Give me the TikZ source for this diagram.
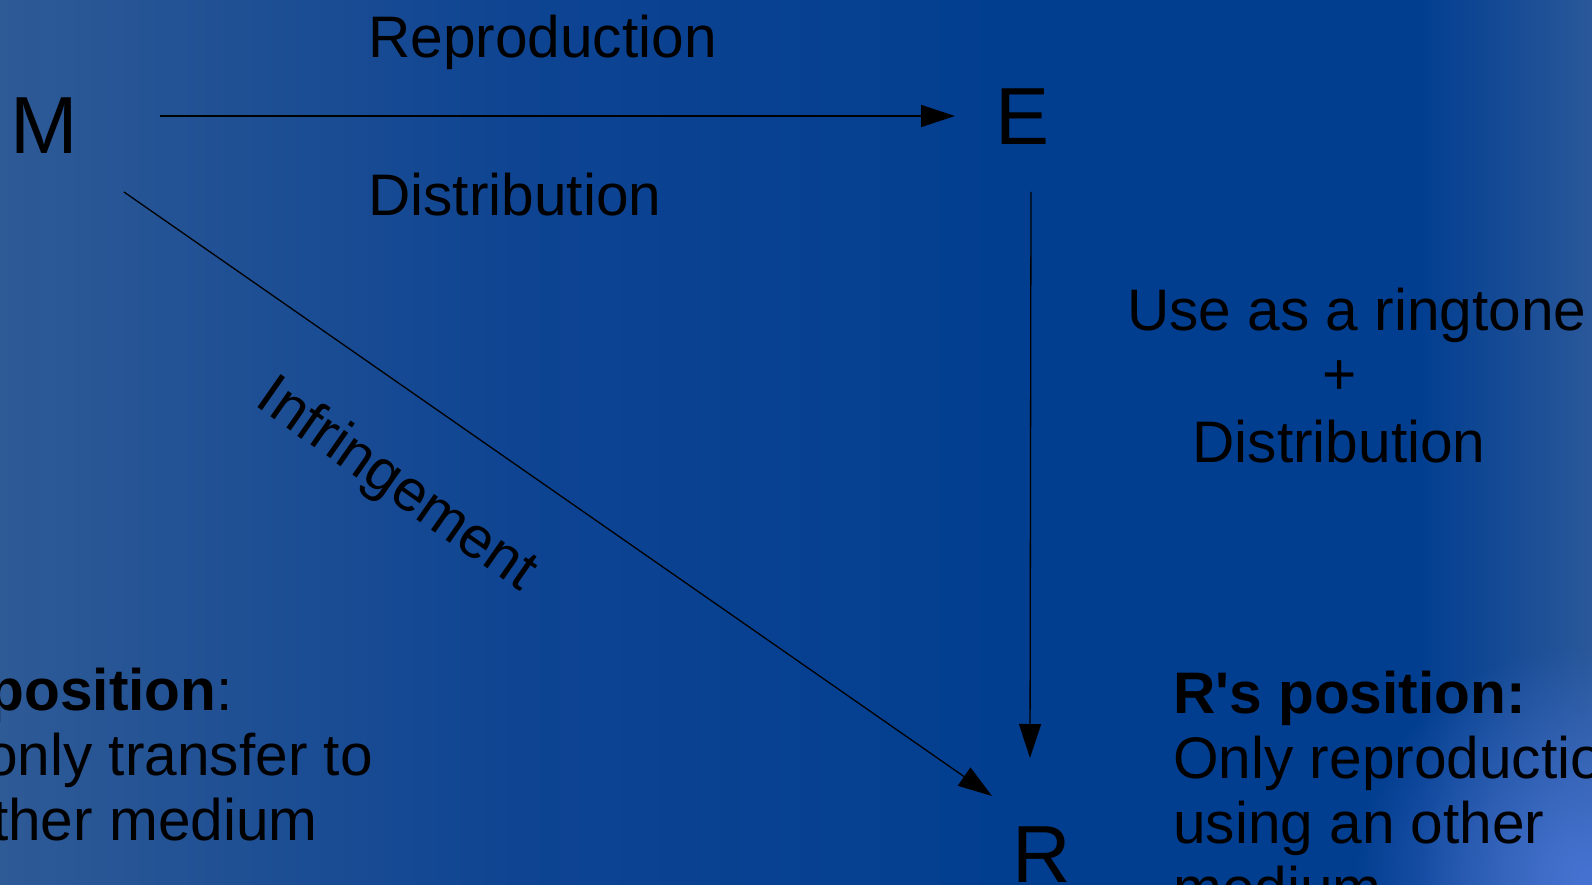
\documentclass[tikz,border=0pt]{standalone}
\usepackage{fontspec}
\setmainfont{Liberation Sans}
\usetikzlibrary{arrows.meta,calc,fadings}
\definecolor{bgmid}{RGB}{2,62,144}
\definecolor{bgleft}{RGB}{46,90,150}
\definecolor{bgleft2}{RGB}{14,68,146}
\definecolor{bgright}{RGB}{42,88,154}
\definecolor{glow}{RGB}{70,115,210}
\tikzfading[name=glowfade, inner color=transparent!0, outer color=transparent!100]
\tikzset{
  big/.style={inner sep=0pt,font=\fontsize{81}{90}\selectfont},
  lbl/.style={inner sep=0pt,font=\fontsize{58.6}{65}\selectfont},
  arr/.style={line width=1.3pt,-{Triangle[length=34pt,width=22pt]}},
}
\begin{document}
\begin{tikzpicture}[x=1pt,y=-1pt]
\useasboundingbox (0,0) rectangle (1592,885);
\clip (0,0) rectangle (1592,885);
% background
\fill[bgmid] (0,0) rectangle (1592,885);
\shade[left color=bgleft,right color=bgleft2] (0,0) rectangle (520,885);
\shade[left color=bgleft2,right color=bgmid] (520,0) rectangle (1000,885);
\shade[left color=bgmid,right color=bgright] (1420,0) rectangle (1593,885);
\fill[glow,path fading=glowfade] (1585,875) circle (230);
% main letters
\node[big,anchor=base west] (M) at (10,154) {M};
\node[big,anchor=base west] (E) at (995,145) {E};
\node[big,anchor=base west] (R) at (1012,882) {R};
% connectors
\draw[arr] ($(M.base west)+(150,-38)$) -- ($(E.base west)+(-40,-29)$);
\draw[arr] ($(E.base west)+(36,47)$) -- ($(R.base west)+(18,-124)$);
\draw[arr] ($(M.base west)+(114,38)$) -- ($(R.base west)+(-20,-86)$);
% labels
\node[lbl,anchor=base west] (rep) at (368,58) {Reproduction};
\node[lbl,anchor=base west] (dist) at (368,216) {Distribution};
\node[lbl,rotate=-35] (inf) at (396,486) {Infringement};
\node[lbl,anchor=base] (use) at (1357,330) {Use as a ringtone};
\node[lbl,anchor=base] (plus) at (1340,394) {+};
\node[lbl,anchor=base] (dist2) at (1339,462) {Distribution};
% left block (clipped)
\node[lbl,anchor=base east] (lp1) at (233,710) {\textbf{position}:};
\node[lbl,anchor=base east] (lp2) at (373,775) {only transfer to};
\node[lbl,anchor=base east] (lp3) at (318,840) {other medium};
% right block
\node[lbl,anchor=base west] (rp1) at (1173,713) {\textbf{R\textquotesingle s position:}};
\node[lbl,anchor=base west] (rp2) at (1173,778) {Only reproduction};
\node[lbl,anchor=base west] (rp3) at (1173,843) {using an other};
\node[lbl,anchor=base west] (rp4) at (1173,908) {medium};
\end{tikzpicture}
\end{document}
